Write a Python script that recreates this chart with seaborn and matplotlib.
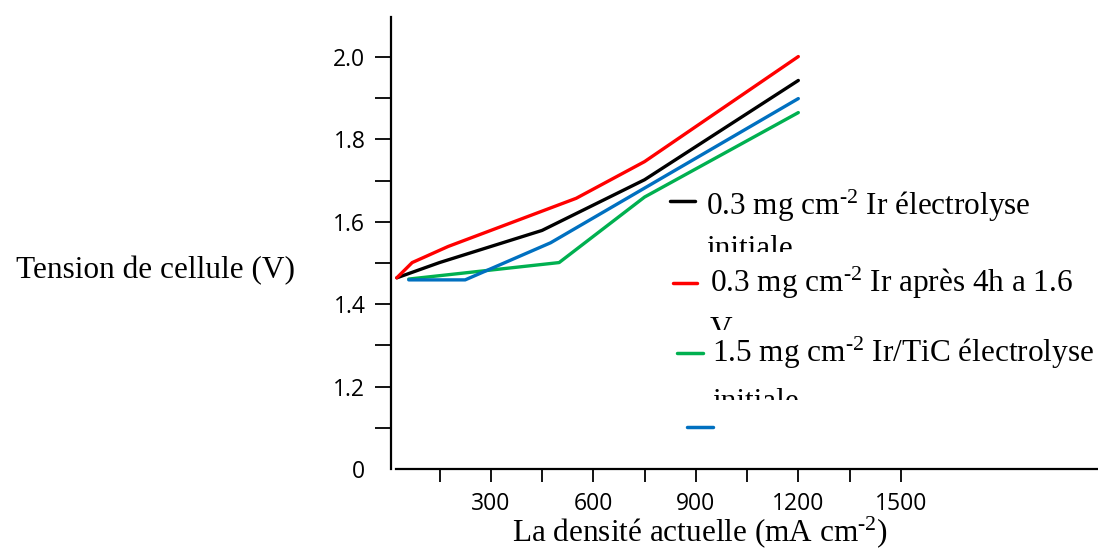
import matplotlib
matplotlib.use("Agg")
import matplotlib.pyplot as plt
from matplotlib.lines import Line2D
from matplotlib.transforms import Bbox, TransformedBbox
import seaborn as sns
import pandas as pd

# cell voltage (V) vs current density (mA cm-2)
ir_init_j = [25, 150, 450, 750, 1200]
ir_init_v = [1.464, 1.501, 1.579, 1.702, 1.943]
ir_4h_j = [25, 70, 175, 550, 750, 1200]
ir_4h_v = [1.464, 1.501, 1.540, 1.657, 1.746, 2.001]
tic_init_j = [60, 500, 750, 1200]
tic_init_v = [1.461, 1.501, 1.660, 1.865]
tic_4h_j = [60, 225, 475, 1200]
tic_4h_v = [1.459, 1.459, 1.549, 1.899]

series_names = ["ir_init", "ir_4h", "tic_init", "tic_4h"]
series_colors = ["#000000", "#FF0000", "#00B050", "#0070C0"]

y_major = [1.0, 1.2, 1.4, 1.6, 1.8, 2.0]
y_major_labels = ["0", "1.2", "1.4", "1.6", "1.8", "2.0"]
y_minor = [1.1, 1.3, 1.5, 1.7, 1.9]
x_major = [300, 600, 900, 1200, 1500]
x_minor = [150, 450, 750, 1050, 1350]

SUP = r"$^{\text{-2}}$"
# legend text, wrapped the same way as the original text boxes
legend_lines = [
    ["0.3 mg cm" + SUP + " Ir électrolyse", "initiale"],
    ["0.3 mg cm" + SUP + " Ir après 4h a 1.6", "V"],
    ["1.5 mg cm" + SUP + " Ir/TiC électrolyse", "initiale"],
    [],
]

df = pd.concat([
    pd.DataFrame({"j": ir_init_j, "v": ir_init_v, "serie": "ir_init"}),
    pd.DataFrame({"j": ir_4h_j, "v": ir_4h_v, "serie": "ir_4h"}),
    pd.DataFrame({"j": tic_init_j, "v": tic_init_v, "serie": "tic_init"}),
    pd.DataFrame({"j": tic_4h_j, "v": tic_4h_v, "serie": "tic_4h"}),
], ignore_index=True)

sns.set_style("white")
plt.rcParams["font.family"] = ["Open Sans", "DejaVu Sans"]
plt.rcParams["mathtext.fontset"] = "custom"
plt.rcParams["mathtext.rm"] = "Liberation Serif"
plt.rcParams["mathtext.it"] = "Liberation Serif:italic"
for key in ["text.color", "axes.labelcolor", "xtick.color", "ytick.color"]:
    plt.rcParams[key] = "black"

W, H = 1098, 557
fig = plt.figure(figsize=(W / 100, H / 100), dpi=100)


def fx(px):
    return px / W


def fy(py):
    return 1 - py / H


ax = fig.add_axes([fx(391), fy(469), (1098 - 391) / W, (469 - 17) / H])

sns.lineplot(data=df, x="j", y="v", hue="serie", hue_order=series_names,
             palette=series_colors, sort=False, estimator=None,
             linewidth=2.4, legend=False, ax=ax)

ax.set_xlim(8, 2077)
ax.set_ylim(1.0, 2.097)

for s in ["top", "right"]:
    ax.spines[s].set_visible(False)
ax.spines["left"].set_linewidth(1.6)
ax.spines["bottom"].set_linewidth(1.6)
ax.spines["bottom"].set_bounds(22, 2077)
ax.spines["left"].set_color("black")
ax.spines["bottom"].set_color("black")

ax.set_yticks(y_major)
ax.set_yticklabels(y_major_labels)
ax.set_yticks(y_minor, minor=True)
ax.set_xticks(x_major)
ax.set_xticklabels([str(v) for v in x_major])
ax.set_xticks(x_minor, minor=True)

ax.tick_params(axis="y", which="both", direction="out", length=11.5, width=1.3,
               color="black", left=True, labelsize=16.5, pad=7)
ax.tick_params(axis="x", which="both", direction="out", length=9.5, width=1.3,
               color="black", bottom=True, labelsize=16.5, pad=7)
ax.yaxis.get_major_ticks()[0].tick1line.set_visible(False)

serif = "Liberation Serif"
ax.set_xlabel("La densité actuelle (mA cm" + SUP + ")", fontsize=22.5,
              family=serif, va="top")
ax.xaxis.set_label_coords((700 - 391) / 707, -0.1)
ax.set_ylabel("Tension de cellule (V)", fontsize=22.5, family=serif,
              rotation=0, ha="center", va="center")
ax.yaxis.set_label_coords((156 - 391) / 707, 0.44)

# hand-drawn legend: short line keys + wrapped, clipped text boxes
keys_px = [(670, 695, 201), (673, 697, 282.7), (677, 703, 352.7), (687, 713, 426.7)]
text_x = [706, 710, 712, None]
baselines = [(215, 256.6), (291.7, 337.6), (361.7, 409.6), None]
clip_y = [251.7, 330, 400, None]

for i, color in enumerate(series_colors):
    x0, x1, yk = keys_px[i]
    fig.add_artist(Line2D([fx(x0), fx(x1)], [fy(yk), fy(yk)],
                          color=color, linewidth=2.5, transform=fig.transFigure))
    if not legend_lines[i]:
        continue
    box = TransformedBbox(Bbox([[fx(600), fy(clip_y[i])], [1.0, fy(clip_y[i] - 70)]]),
                          fig.transFigure)
    for line, base in zip(legend_lines[i], baselines[i]):
        t = fig.text(fx(text_x[i]), fy(base), line, fontsize=22.5, family=serif,
                     ha="left", va="baseline", color="black")
        t.set_clip_on(True)
        t.set_clip_box(box)

fig.savefig("out.png", dpi=100)
